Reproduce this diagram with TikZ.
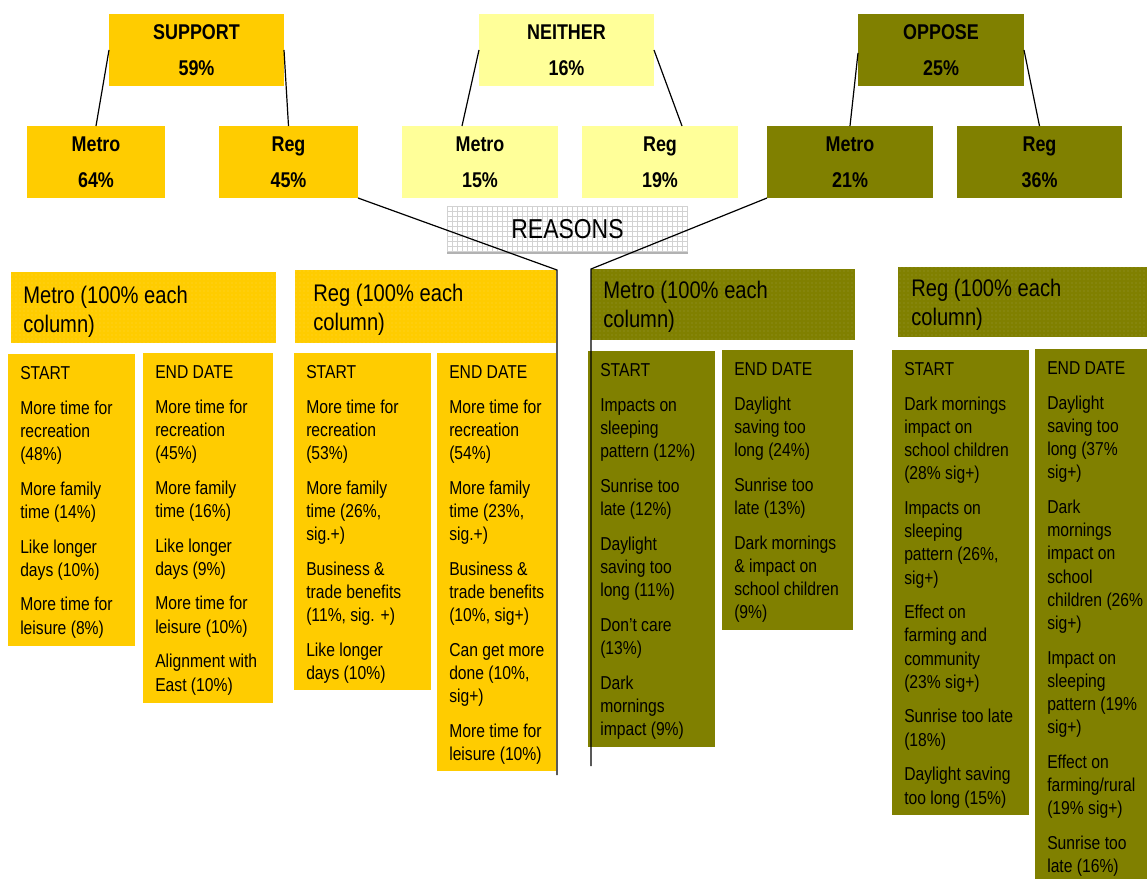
\documentclass[tikz,border=0pt]{standalone}
\usepackage{fontspec}
\setmainfont{Liberation Sans}[FakeStretch=0.84]
\usetikzlibrary{fit,calc,patterns}
\definecolor{supc}{HTML}{FFCC00}
\definecolor{neic}{HTML}{FFFF99}
\definecolor{oppc}{HTML}{808000}
\newcommand\mybox[6]{\node[boxshape, fill=#6, fit={(#2,#3)(#4,#5)}] (#1) {};}
\begin{document}
\begin{tikzpicture}[x=0.75pt,y=-0.75pt,
  boxshape/.style={inner sep=0pt, outer sep=0pt, draw=none},
  toptext/.style={inner sep=0pt, align=center, font=\fontsize{16}{27}\selectfont\bfseries},
  coltext/.style={inner sep=0pt, anchor=north west, align=left, font=\fontsize{14}{17.4}\selectfont},
  hdrtext/.style={inner sep=0pt, anchor=north west, align=left, font=\fontsize{18}{21.75}\selectfont},
  dotsover/.style={pattern=dots, pattern color=white, fill opacity=0.2},
  conn/.style={draw=black, line width=0.9pt}
]
\useasboundingbox (0,0) rectangle (1147,879);

% ---- top level
\mybox{S}{109}{14}{284}{86}{supc}
\mybox{N}{479}{14}{654}{86}{neic}
\mybox{O}{858}{14}{1024}{86}{oppc}
\node[toptext] (St) at (S.center) {SUPPORT\\59\%};
\node[toptext] (Nt) at (N.center) {NEITHER\\16\%};
\node[toptext] (Ot) at (O.center) {OPPOSE\\25\%};

% ---- second level
\mybox{SM}{27}{126}{165}{198}{supc}
\mybox{SR}{219}{126}{358}{198}{supc}
\mybox{NM}{402}{126}{558}{198}{neic}
\mybox{NR}{582}{126}{738}{198}{neic}
\mybox{OM}{767}{126}{933}{198}{oppc}
\mybox{OR}{957}{126}{1122}{198}{oppc}
\node[toptext] (SMt) at (SM.center) {Metro\\64\%};
\node[toptext] (SRt) at (SR.center) {Reg\\45\%};
\node[toptext] (NMt) at (NM.center) {Metro\\15\%};
\node[toptext] (NRt) at (NR.center) {Reg\\19\%};
\node[toptext] (OMt) at (OM.center) {Metro\\21\%};
\node[toptext] (ORt) at (OR.center) {Reg\\36\%};

\draw[conn] (S.west) -- (SM.north);
\draw[conn] (S.east) -- (SR.north);
\draw[conn] (N.west) -- ($(NM.north)+(-18,0)$);
\draw[conn] (N.east) -- ($(NR.north)+(22,0)$);
\draw[conn] ($(O.west)+(0,3)$) -- (OM.north);
\draw[conn] (O.east) -- (OR.north);

% ---- REASONS
\node[boxshape, fit={(447,206)(688,253)}] (R) {};
\foreach \x in {447,452,...,687} \draw[gray!35, line width=0.5pt] (\x,206) -- (\x,253);
\foreach \y in {206,211,...,251} \draw[gray!35, line width=0.5pt] (447,\y) -- (688,\y);
\draw[gray!60, line width=1.2pt] (447,253) -- (688,253);
\node[inner sep=0pt, font=\fontsize{20.5}{22}\selectfont] (Rt) at (R.center) {REASONS};

% ---- section headers
\mybox{HSM}{11}{272}{276}{343}{supc}
\mybox{HSR}{295}{270}{556}{343}{supc}
\mybox{HOM}{591}{269}{855}{340}{oppc}
\mybox{HOR}{898}{267}{1147}{337}{oppc}
\fill[dotsover] (HSM.north west) rectangle (HSM.south east);
\fill[dotsover] (HSR.north west) rectangle (HSR.south east);
\fill[dotsover] (HOM.north west) rectangle (HOM.south east);
\fill[dotsover] (HOR.north west) rectangle (HOR.south east);
\node[hdrtext] (HSMt) at ($(HSM.north west)+(12,11)$) {\strut Metro (100\% each\\column)};
\node[hdrtext] (HSRt) at ($(HSR.north west)+(18,11)$) {\strut Reg (100\% each\\column)};
\node[hdrtext] (HOMt) at ($(HOM.north west)+(12,9)$) {\strut Metro (100\% each\\column)};
\node[hdrtext] (HORt) at ($(HOR.north west)+(13,9)$) {\strut Reg (100\% each\\column)};

% ---- columns
\mybox{C1}{8}{354}{135}{646}{supc}
\mybox{C2}{143}{353}{273}{703}{supc}
\mybox{C3}{294}{353}{431}{690}{supc}
\mybox{C4}{437}{353}{556}{771}{supc}
\mybox{C5}{588}{351}{715}{747}{oppc}
\mybox{C6}{722}{350}{853}{630}{oppc}
\mybox{C7}{892}{350}{1029}{815}{oppc}
\mybox{C8}{1035}{349}{1147}{879}{oppc}

\node[coltext] (C1t) at ($(C1.north west)+(12,9)$) {\strut START\\[8.6pt]More time for\\recreation\\(48\%)\\[8.6pt]More family\\time (14\%)\\[8.6pt]Like longer\\days (10\%)\\[8.6pt]More time for\\leisure (8\%)};
\node[coltext] (C2t) at ($(C2.north west)+(12,9)$) {\strut END DATE\\[8.6pt]More time for\\recreation\\(45\%)\\[8.6pt]More family\\time (16\%)\\[8.6pt]Like longer\\days (9\%)\\[8.6pt]More time for\\leisure (10\%)\\[8.6pt]Alignment with\\East (10\%)};
\node[coltext] (C3t) at ($(C3.north west)+(12,9)$) {\strut START\\[8.6pt]More time for\\recreation\\(53\%)\\[8.6pt]More family\\time (26\%,\\sig.+)\\[8.6pt]Business \&\\trade benefits\\(11\%, sig. +)\\[8.6pt]Like longer\\days (10\%)};
\node[coltext] (C4t) at ($(C4.north west)+(12,9)$) {\strut END DATE\\[8.6pt]More time for\\recreation\\(54\%)\\[8.6pt]More family\\time (23\%,\\sig.+)\\[8.6pt]Business \&\\trade benefits\\(10\%, sig+)\\[8.6pt]Can get more\\done (10\%,\\sig+)\\[8.6pt]More time for\\leisure (10\%)};
\node[coltext] (C5t) at ($(C5.north west)+(12,9)$) {\strut START\\[8.6pt]Impacts on\\sleeping\\pattern (12\%)\\[8.6pt]Sunrise too\\late (12\%)\\[8.6pt]Daylight\\saving too\\long (11\%)\\[8.6pt]Don’t care\\(13\%)\\[8.6pt]Dark\\mornings\\impact (9\%)};
\node[coltext] (C6t) at ($(C6.north west)+(12,9)$) {\strut END DATE\\[8.6pt]Daylight\\saving too\\long (24\%)\\[8.6pt]Sunrise too\\late (13\%)\\[8.6pt]Dark mornings\\\& impact on\\school children\\(9\%)};
\node[coltext] (C7t) at ($(C7.north west)+(12,9)$) {\strut START\\[8.6pt]Dark mornings\\impact on\\school children\\(28\% sig+)\\[8.6pt]Impacts on\\sleeping\\pattern (26\%,\\sig+)\\[8.6pt]Effect on\\farming and\\community\\(23\% sig+)\\[8.6pt]Sunrise too late\\(18\%)\\[8.6pt]Daylight saving\\too long (15\%)};
\node[coltext] (C8t) at ($(C8.north west)+(12,9)$) {\strut END DATE\\[8.6pt]Daylight\\saving too\\long (37\%\\sig+)\\[8.6pt]Dark\\mornings\\impact on\\school\\children (26\%\\sig+)\\[8.6pt]Impact on\\sleeping\\pattern (19\%\\sig+)\\[8.6pt]Effect on\\farming/rural\\(19\% sig+)\\[8.6pt]Sunrise too\\late (16\%)};

% ---- reason connectors
\coordinate (k1) at (557,270);
\coordinate (k1b) at (557,775);
\coordinate (k2) at (591,269);
\coordinate (k2b) at (591,766);
\draw[conn] (SR.south east) -- (k1) -- (k1b);
\draw[conn] (OM.south west) -- (k2) -- (k2b);
\end{tikzpicture}
\end{document}
